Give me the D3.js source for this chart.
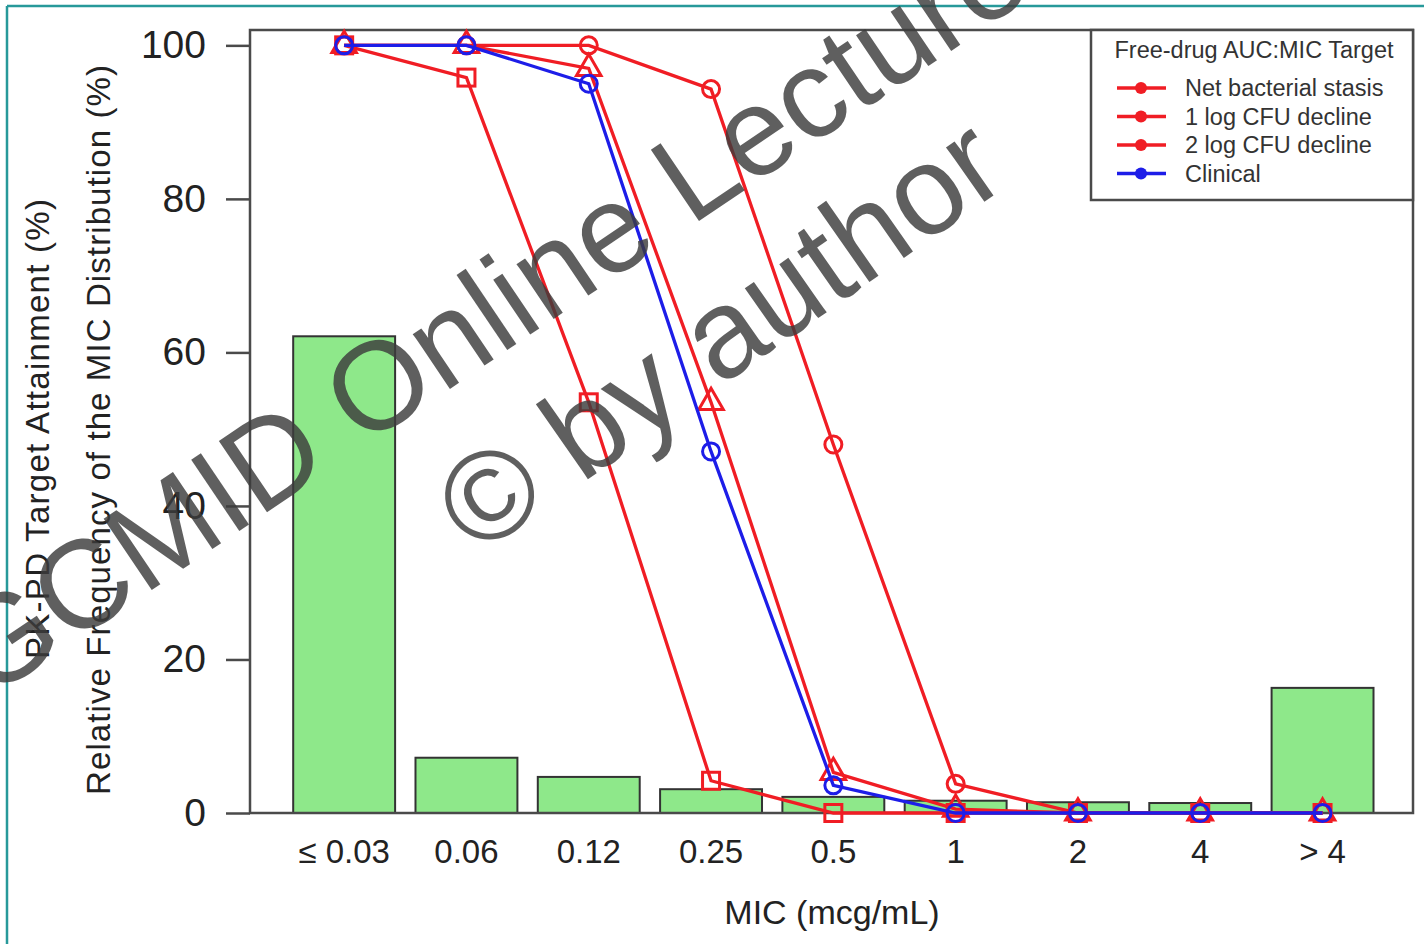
<!DOCTYPE html>
<html>
<head>
<meta charset="utf-8">
<script src="https://cdn.jsdelivr.net/npm/d3@7"></script>
<style>
  html, body { margin: 0; padding: 0; background: #fff; }
  svg { display: block; font-family: "Liberation Sans", Arial, Helvetica, sans-serif; }
</style>
</head>
<body>
<svg id="chart" width="1424" height="944"></svg>
<script>
// ---- data ----
const categories = ["\u2264 0.03", "0.06", "0.12", "0.25", "0.5", "1", "2", "4", "> 4"];
const micFrequency = [62.1, 7.2, 4.7, 3.1, 2.1, 1.6, 1.4, 1.3, 16.3];
const netStasis   = [100, 100, 100, 94.3, 48.0, 3.8, 0, 0, 0];
const oneLog      = [100, 100, 97.0, 53.5, 5.3, 0.5, 0, 0, 0];
const twoLog      = [100, 95.8, 53.5, 4.2, 0, 0, 0, 0, 0];
const clinical    = [100, 100, 95.0, 47.1, 3.6, 0, 0, 0, 0];
const yTicks = [0, 20, 40, 60, 80, 100];
const legendTitle = "Free-drug AUC:MIC Target";
const seriesNames = ["Net bacterial stasis", "1 log CFU decline", "2 log CFU decline", "Clinical"];

const RED = "#f01d24", BLUE = "#1d1de8", AXIS = "#4a4a4a";

const svg = d3.select("#chart");

// outer teal frame
svg.append("line").attr("x1", 7).attr("x2", 1424).attr("y1", 6).attr("y2", 6)
  .attr("stroke", "#27999a").attr("stroke-width", 2.5);
svg.append("line").attr("x1", 7).attr("x2", 7).attr("y1", 6).attr("y2", 944)
  .attr("stroke", "#27999a").attr("stroke-width", 2.5);

const plot = { left: 250, right: 1413, top: 30, bottom: 813 };

const x = d3.scaleBand().domain(categories)
  .range([283, 1383.7]).paddingInner(0.2 / 1.2).paddingOuter(0.1 / 1.2);
const y = d3.scaleLinear().domain([0, 102]).range([plot.bottom, plot.top]);
const cx = c => x(c) + x.bandwidth() / 2;

// bars
svg.append("g").selectAll("rect").data(categories).join("rect")
  .attr("x", d => x(d))
  .attr("width", x.bandwidth())
  .attr("y", (d, i) => y(micFrequency[i]))
  .attr("height", (d, i) => y(0) - y(micFrequency[i]))
  .attr("fill", "#8ee88a")
  .attr("stroke", "#333")
  .attr("stroke-width", 2);

// box
svg.append("rect")
  .attr("x", plot.left).attr("y", plot.top)
  .attr("width", plot.right - plot.left).attr("height", plot.bottom - plot.top)
  .attr("fill", "none").attr("stroke", AXIS).attr("stroke-width", 2.5);

// y axis
const yAxis = d3.axisLeft(y).tickValues(yTicks).tickSize(24).tickPadding(20).tickFormat(d3.format("d"));
const gy = svg.append("g").attr("transform", `translate(${plot.left},0)`).call(yAxis);
gy.select(".domain").remove();
gy.selectAll(".tick line").attr("stroke", AXIS).attr("stroke-width", 2.5);
gy.selectAll(".tick text").attr("font-size", 39).attr("fill", "#222")
  .attr("font-family", "Liberation Sans, Arial, sans-serif");

// x labels
const xAxis = d3.axisBottom(x).tickSize(0).tickPadding(27);
const gx = svg.append("g").attr("transform", `translate(0,${plot.bottom})`).call(xAxis);
gx.select(".domain").remove();
gx.selectAll(".tick text").attr("font-size", 33).attr("fill", "#222")
  .attr("font-family", "Liberation Sans, Arial, sans-serif");

// axis titles
svg.append("text").attr("x", 832).attr("y", 924).attr("text-anchor", "middle")
  .attr("font-size", 34).attr("fill", "#222").text("MIC (mcg/mL)");
svg.append("text").attr("transform", "translate(49,429) rotate(-90)").attr("text-anchor", "middle")
  .attr("font-size", 33).attr("fill", "#222").attr("textLength", 460)
  .text("PK-PD Target Attainment (%)");
svg.append("text").attr("transform", "translate(110,430) rotate(-90)").attr("text-anchor", "middle")
  .attr("font-size", 33).attr("fill", "#222").attr("textLength", 730)
  .text("Relative Frequency of the MIC Distribution (%)");

// lines
const line = d3.line().x((d, i) => cx(categories[i])).y(d => y(d));
const series = [
  { name: seriesNames[0], values: netStasis, color: RED, shape: "circle" },
  { name: seriesNames[1], values: oneLog, color: RED, shape: "triangle" },
  { name: seriesNames[2], values: twoLog, color: RED, shape: "square" },
  { name: seriesNames[3], values: clinical, color: BLUE, shape: "circle" }
];
function marker(g, shape, px, py, color, filled) {
  if (shape === "circle") {
    g.append("circle").attr("cx", px).attr("cy", py).attr("r", 8.5)
      .attr("fill", filled ? color : "none").attr("stroke", color).attr("stroke-width", 3);
  } else if (shape === "square") {
    g.append("rect").attr("x", px - 8.5).attr("y", py - 8.5).attr("width", 17).attr("height", 17)
      .attr("fill", filled ? color : "none").attr("stroke", color).attr("stroke-width", 3);
  } else {
    const s = d3.symbol().type(d3.symbolTriangle).size(260);
    g.append("path").attr("transform", `translate(${px},${py})`).attr("d", s())
      .attr("fill", filled ? color : "none").attr("stroke", color).attr("stroke-width", 3);
  }
}
const gl = svg.append("g");
series.forEach(s => {
  gl.append("path").datum(s.values).attr("d", line)
    .attr("fill", "none").attr("stroke", s.color).attr("stroke-width", 3.3);
  s.values.forEach((v, i) => marker(gl, s.shape, cx(categories[i]), y(v), s.color, false));
});

// legend
const lg = svg.append("g");
lg.append("rect").attr("x", 1091).attr("y", plot.top).attr("width", plot.right - 1091).attr("height", 170)
  .attr("fill", "#fff").attr("stroke", AXIS).attr("stroke-width", 2.5);
lg.append("text").attr("x", 1254).attr("y", 58).attr("text-anchor", "middle")
  .attr("font-size", 23.5).attr("fill", "#333").text(legendTitle);
series.forEach((s, i) => {
  const ly = 88 + i * 28.5;
  lg.append("line").attr("x1", 1117).attr("x2", 1166).attr("y1", ly).attr("y2", ly)
    .attr("stroke", s.color).attr("stroke-width", 3.5);
  lg.append("circle").attr("cx", 1141).attr("cy", ly).attr("r", 6).attr("fill", s.color);
  lg.append("text").attr("x", 1185).attr("y", ly + 8).attr("font-size", 23.5).attr("fill", "#333").text(s.name);
});

// watermark
const wm = svg.append("g").attr("fill", "#3c3c3c").attr("fill-opacity", 0.82)
  .attr("font-family", "Liberation Sans, Arial, sans-serif");
wm.append("text").attr("transform", "translate(512,347) rotate(-34)").attr("text-anchor", "middle")
  .attr("font-size", 125).text("GCMID Online Lecture");
wm.append("text").attr("transform", "translate(744,370) rotate(-35)").attr("text-anchor", "middle")
  .attr("font-size", 126).text("\u00a9 by author");
</script>
</body>
</html>
